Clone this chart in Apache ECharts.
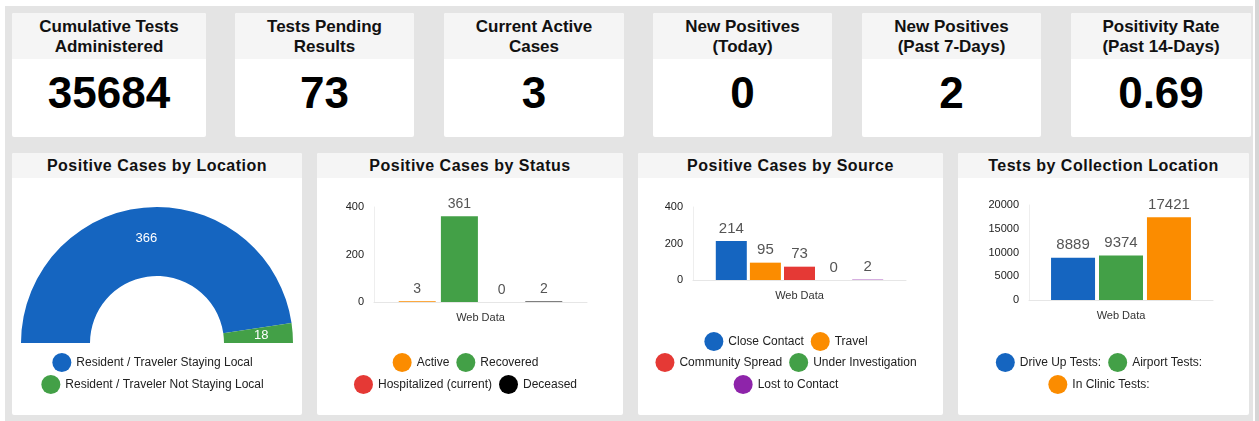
<!DOCTYPE html>
<html>
<head>
<meta charset="utf-8">
<title>Dashboard</title>
<script src="https://cdn.jsdelivr.net/npm/echarts@6/dist/echarts.min.js"></script>
<style>
  body { margin: 0; width: 1259px; height: 421px; background: #fff; overflow: hidden; position: relative;
         font-family: "Liberation Sans", Arial, sans-serif; color: #111; }
  #bg { position: absolute; left: 5px; top: 6px; width: 1248px; height: 415px; background: #e4e4e4; }
  #edge { position: absolute; left: 1255px; top: 0; width: 4px; height: 421px; background: #d6d6d6; }
  .card { position: absolute; background: #fff; border-radius: 2px; overflow: hidden; }
  .kpi .hd { height: 46px; background: #f5f5f5; text-align: center; font-weight: bold; font-size: 17px;
             line-height: 20px; padding-top: 4px; box-sizing: border-box; }
  .kpi .num { text-align: center; font-weight: bold; font-size: 44px; line-height: 44px; margin-top: 12px; color: #000; }
  .panel .hd { height: 25px; background: #f5f5f5; text-align: center; font-weight: bold; font-size: 16px;
               letter-spacing: 0.5px; line-height: 26px; }
  .panel .ch { position: absolute; left: 0; top: 0; }
</style>
</head>
<body>
<div id="bg"></div>
<div id="edge"></div>
<div id="root"></div>
<script>
// 顶部指标
const kpiTitles = ['Cumulative Tests\nAdministered', 'Tests Pending\nResults', 'Current Active\nCases',
  'New Positives\n(Today)', 'New Positives\n(Past 7-Days)', 'Positivity Rate\n(Past 14-Days)'];
const kpiValues = ['35684', '73', '3', '0', '2', '0.69'];

const panelTitles = ['Positive Cases by Location', 'Positive Cases by Status',
  'Positive Cases by Source', 'Tests by Collection Location'];

const category = ['Web Data'];

const locationNames = ['Resident / Traveler Staying Local', 'Resident / Traveler Not Staying Local'];
const locationValues = [366, 18];

const statusNames = ['Active', 'Recovered', 'Hospitalized (current)', 'Deceased'];
const statusValues = [3, 361, 0, 2];

const sourceNames = ['Close Contact', 'Travel', 'Community Spread', 'Under Investigation', 'Lost to Contact'];
const sourceValues = [214, 95, 73, 0, 2];

const collectionNames = ['Drive Up Tests:', 'Airport Tests:', 'In Clinic Tests:'];
const collectionValues = [8889, 9374, 17421];

const blue = '#1565c0', green = '#43a047', orange = '#fb8c00', red = '#e53935', purple = '#8e24aa', black = '#000';

// 布局
const kpiBoxes = [[12, 194], [235, 179], [444, 180], [653, 179], [862, 179], [1071, 180]];
const panelBoxes = [[12, 290], [317, 306], [638, 305], [958, 291]];

const root = document.getElementById('root');
kpiBoxes.forEach(function (b, i) {
  const d = document.createElement('div');
  d.className = 'card kpi';
  d.style.cssText = 'left:' + b[0] + 'px;top:13px;width:' + b[1] + 'px;height:124px;';
  const hd = document.createElement('div');
  hd.className = 'hd';
  hd.innerText = kpiTitles[i];
  const num = document.createElement('div');
  num.className = 'num';
  num.innerText = kpiValues[i];
  d.appendChild(hd);
  d.appendChild(num);
  root.appendChild(d);
});

const chartDivs = panelBoxes.map(function (b, i) {
  const d = document.createElement('div');
  d.className = 'card panel';
  d.style.cssText = 'left:' + b[0] + 'px;top:153px;width:' + b[1] + 'px;height:262px;';
  const hd = document.createElement('div');
  hd.className = 'hd';
  hd.innerText = panelTitles[i];
  const ch = document.createElement('div');
  ch.className = 'ch';
  ch.style.width = (b[1] - 9) + 'px';
  ch.style.height = '262px';
  d.appendChild(hd);
  d.appendChild(ch);
  root.appendChild(d);
  return ch;
});

const fontFamily = '"Liberation Sans", Arial, sans-serif';

function legendRow (names, top) {
  return {
    data: names,
    top: top,
    left: 'center',
    icon: 'circle',
    itemWidth: 19,
    itemHeight: 19,
    itemGap: 7,
    selectedMode: false,
    textStyle: { fontSize: 12, color: '#222', fontFamily: fontFamily }
  };
}

function barOption (names, values, colors, grid, yMax, yInterval, barWidth, barGap, labelSize, legends) {
  return {
    animation: false,
    grid: grid,
    legend: legends,
    xAxis: {
      type: 'category',
      data: category,
      axisTick: { show: false },
      axisLine: { lineStyle: { color: '#e6e6e6' } },
      axisLabel: { color: '#333', fontSize: 11, margin: 10, fontFamily: fontFamily }
    },
    yAxis: {
      type: 'value',
      min: 0,
      max: yMax,
      interval: yInterval,
      splitLine: { show: false },
      axisTick: { show: false },
      axisLine: { show: true, lineStyle: { color: '#eeeeee' } },
      axisLabel: { color: '#222', fontSize: 11, margin: 10, fontFamily: fontFamily,
        formatter: function (v) { return String(v); } }
    },
    series: names.map(function (n, i) {
      return {
        name: n,
        type: 'bar',
        barWidth: barWidth,
        barGap: barGap,
        itemStyle: { color: colors[i] },
        label: { show: true, position: 'top', distance: 5, color: '#555', fontSize: labelSize, fontFamily: fontFamily },
        data: [values[i]]
      };
    })
  };
}

// 饼图 - 半环
const c1 = echarts.init(chartDivs[0]);
c1.setOption({
  animation: false,
  color: [blue, green],
  legend: [legendRow([locationNames[0]], 195), legendRow([locationNames[1]], 217)],
  series: [{
    type: 'pie',
    center: [145, 190],
    radius: [67, 136],
    startAngle: 180,
    endAngle: 0,
    avoidLabelOverlap: false,
    label: { show: true, position: 'inside', formatter: '{c}', color: '#fff', fontSize: 13, fontFamily: fontFamily },
    labelLine: { show: false },
    data: locationNames.map(function (n, i) {
      const item = { name: n, value: locationValues[i] };
      if (i === 0) item.label = { padding: [11, 6, 0, 0] };
      return item;
    })
  }]
});

const c2 = echarts.init(chartDivs[1]);
c2.setOption(barOption(statusNames, statusValues, [orange, green, red, black],
  { left: 57, top: 54, width: 213, height: 95 }, 400, 200, 37, '14%', 14,
  [legendRow(statusNames.slice(0, 2), 195), legendRow(statusNames.slice(2), 217)]));

const c3 = echarts.init(chartDivs[2]);
c3.setOption(barOption(sourceNames, sourceValues, [blue, orange, red, green, purple],
  { left: 55, top: 54, width: 213, height: 73 }, 400, 200, 31, '10%', 15,
  [legendRow(sourceNames.slice(0, 2), 174), legendRow(sourceNames.slice(2, 4), 195), legendRow(sourceNames.slice(4), 217)]));

const c4 = echarts.init(chartDivs[3]);
c4.setOption(barOption(collectionNames, collectionValues, [blue, green, orange],
  { left: 71, top: 52, width: 184, height: 95 }, 20000, 5000, 44, '9%', 15,
  [legendRow(collectionNames.slice(0, 2), 195), legendRow(collectionNames.slice(2), 217)]));
</script>
</body>
</html>
